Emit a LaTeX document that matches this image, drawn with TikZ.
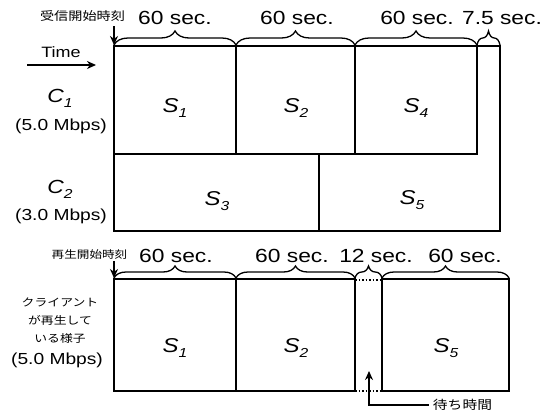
\documentclass[tikz,border=0pt]{standalone}
\usepackage{fontspec}
\setmainfont{Liberation Sans}[FakeStretch=1.2]
\newfontfamily\cjk{Noto Sans CJK JP}[FakeStretch=1.2]
\usetikzlibrary{decorations.pathreplacing,arrows.meta}
\newcommand\fs[1]{\fontsize{#1}{#1}\selectfont}
\newcommand\seglab[2]{{\fs{20}\itshape #1\raisebox{-5pt}{\fs{13}\itshape #2}}}
\newcommand\chlab[2]{{\fs{19}\itshape #1\raisebox{-5pt}{\fs{13}\itshape #2}}}
\begin{document}
\begin{tikzpicture}[x=1pt,y=-1pt,
  box/.style={line width=1.8pt},
  brc/.style={decorate,decoration={brace,amplitude=14pt},line width=1.3pt},
  brcb/.style={decorate,decoration={brace,amplitude=12pt},line width=1.3pt},
  arr/.style={line width=1.5pt,-{Stealth[length=9pt,width=8pt]}},
  sec/.style={anchor=base,inner sep=0pt,font=\fs{19}},
  blab/.style={anchor=base,inner sep=0pt},
  jp/.style={inner sep=0pt}]
\useasboundingbox (0,0) rectangle (543,418);

% ---------- reception (top) ----------
\draw[box] (114,46) rectangle (500,231);
\draw[box] (114,154) -- (477,154) -- (477,46);
\draw[box] (236,46) -- (236,154);
\draw[box] (355,46) -- (355,154);
\draw[box] (319,154) -- (319,231);

\node[blab] (s1) at (175,112) {\seglab{S}{1}};
\node[blab] (s2) at (296,112) {\seglab{S}{2}};
\node[blab] (s4) at (416,112) {\seglab{S}{4}};
\node[blab] (s3) at (217,205) {\seglab{S}{3}};
\node[blab] (s5) at (412,204) {\seglab{S}{5}};

\node[blab] (c1) at (60,102) {\chlab{C}{1}};
\node[blab,font=\fs{16}] (c1r) at (61,130) {(5.0 Mbps)};
\node[blab] (c2) at (60,193) {\chlab{C}{2}};
\node[blab,font=\fs{16}] (c2r) at (61,220) {(3.0 Mbps)};

\node[blab,font=\fs{15}] (time) at (61,57) {Time};
\coordinate (ts) at (27,65);
\coordinate (te) at (96,65);
\draw[arr] (ts) -- (te);

\node[jp,font=\cjk\fs{11.8}] (recv) at (82.5,16.5) {受信開始時刻};
\coordinate (rs) at (114,26);
\coordinate (re) at (114,45);
\draw[arr] (rs) -- (re);

\draw[brc] (114,45) -- (236,45);
\draw[brc] (236,45) -- (355,45);
\draw[brc] (355,45) -- (477,45);
\draw[brc] (477,45) -- (500,45);
\node[sec] (t1) at (175,24) {60 sec.};
\node[sec] (t2) at (297,24) {60 sec.};
\node[sec] (t3) at (417,24) {60 sec.};
\node[sec] (t4) at (502,24) {7.5 sec.};

% ---------- playback (bottom) ----------
\draw[box] (114,279) rectangle (355,391);
\draw[box] (236,279) -- (236,391);
\draw[box] (382,279) rectangle (509,391);
\draw[dotted,line width=1.5pt] (355,280) -- (382,280);
\draw[dotted,line width=1.5pt] (355,391) -- (382,391);

\node[blab] (p1) at (175,352) {\seglab{S}{1}};
\node[blab] (p2) at (296,352) {\seglab{S}{2}};
\node[blab] (p5) at (446,352) {\seglab{S}{5}};

\node[jp,font=\cjk\fs{10.5}] (play) at (89.5,254.5) {再生開始時刻};
\coordinate (ps) at (114,261);
\coordinate (pe) at (114,278);
\draw[arr] (ps) -- (pe);

\draw[brcb] (114,278) -- (236,278);
\draw[brcb] (236,278) -- (355,278);
\draw[brcb] (355,278) -- (382,278);
\draw[brcb] (382,278) -- (509,278);
\node[sec] (b1) at (176,262) {60 sec.};
\node[sec] (b2) at (292,262) {60 sec.};
\node[sec] (b3) at (376,262) {12 sec.};
\node[sec] (b4) at (465,262) {60 sec.};

\node[jp,font=\cjk\fs{10.7}] (cl1) at (60,302) {クライアント};
\node[jp,font=\cjk\fs{10.7}] (cl2) at (60,320) {が再生して};
\node[jp,font=\cjk\fs{10.7}] (cl3) at (60,338) {いる様子};
\node[blab,font=\fs{16}] (clr) at (57,364) {(5.0 Mbps)};

\node[jp,font=\cjk\fs{12.3}] (wait) at (462.5,405) {待ち時間};
\coordinate (gaptip) at (369,371);
\draw[arr] ([xshift=-4pt]wait.west) -| (gaptip);
\end{tikzpicture}
\end{document}
